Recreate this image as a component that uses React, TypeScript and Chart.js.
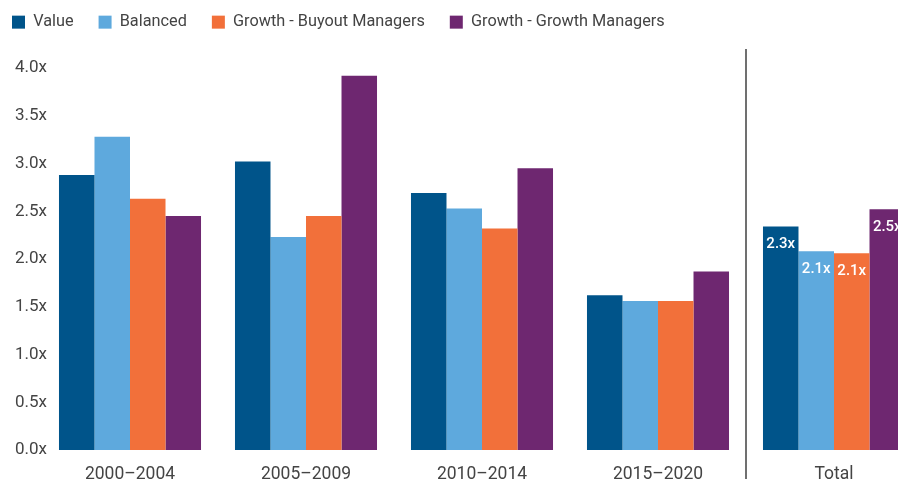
import React, { useEffect, useRef } from "react";
import { Chart, registerables } from "chart.js";

Chart.register(...registerables);

const categories = ["2000–2004", "2005–2009", "2010–2014", "2015–2020", "Total"];
const seriesNames = ["Value", "Balanced", "Growth - Buyout Managers", "Growth - Growth Managers"];
const valueData = [2.88, 3.02, 2.69, 1.62, 2.34];
const balancedData = [3.28, 2.23, 2.53, 1.56, 2.08];
const buyoutData = [2.63, 2.45, 2.32, 1.56, 2.06];
const growthData = [2.45, 3.92, 2.95, 1.87, 2.52];
const colors = ["#00548A", "#5EA9DD", "#F2703A", "#6E2770"];
const yTicks = { min: 0, max: 4, step: 0.5 };
const labelledIndex = 4;

const FONT = "Roboto, 'Noto Sans', sans-serif";
const TEXT = "#444444";
const W = 935;
const H = 494;

export default function App() {
  const ref = useRef<HTMLCanvasElement | null>(null);

  useEffect(() => {
    if (!ref.current) return;

    const legendSpace = {
      id: "legendSpace",
      beforeInit(chart: any) {
        const lg = chart.legend;
        if (!lg) return;
        const orig = lg.fit;
        lg.fit = function () {
          orig.call(this);
          this.height = 79;
        };
      },
    };

    const divider = {
      id: "divider",
      afterDraw(chart: any) {
        const x = chart.scales.x;
        const a = chart.chartArea;
        const px = (x.getPixelForValue(3) + x.getPixelForValue(4)) / 2;
        const ctx = chart.ctx;
        ctx.save();
        ctx.strokeStyle = "#404040";
        ctx.lineWidth = 1.5;
        ctx.beginPath();
        ctx.moveTo(px, a.top - 19);
        ctx.lineTo(px, a.bottom + 29);
        ctx.stroke();
        ctx.restore();
      },
    };

    const totalLabels = {
      id: "totalLabels",
      afterDatasetsDraw(chart: any) {
        const ctx = chart.ctx;
        ctx.save();
        ctx.fillStyle = "#ffffff";
        ctx.font = `500 15px ${FONT}`;
        ctx.textAlign = "center";
        ctx.textBaseline = "middle";
        chart.data.datasets.forEach((ds: any, i: number) => {
          const meta = chart.getDatasetMeta(i);
          const bar = meta.data[labelledIndex];
          if (!bar) return;
          const v = ds.data[labelledIndex] as number;
          ctx.fillText(v.toFixed(1) + "x", bar.x, bar.y + 17.5);
        });
        ctx.restore();
      },
    };

    const allData = [valueData, balancedData, buyoutData, growthData];

    const chart = new Chart(ref.current, {
      type: "bar",
      data: {
        labels: categories,
        datasets: seriesNames.map((name, i) => ({
          label: name,
          data: allData[i],
          backgroundColor: colors[i],
          borderWidth: 0,
          categoryPercentage: 0.807,
          barPercentage: 1.0,
        })),
      },
      options: {
        responsive: false,
        animation: false,
        devicePixelRatio: 1,
        layout: { padding: { left: 0, right: 0, top: 0, bottom: 0 } },
        plugins: {
          legend: {
            position: "top",
            align: "start",
            labels: {
              boxWidth: 13,
              boxHeight: 13,
              padding: 25,
              color: TEXT,
              font: { family: FONT, size: 16.3 },
            },
          },
          tooltip: { enabled: false },
        },
        scales: {
          x: {
            grid: { display: false, drawTicks: false },
            border: { display: false },
            ticks: {
              color: TEXT,
              font: { family: FONT, size: 17.5 },
              padding: 14,
              maxRotation: 0,
            },
            afterFit(scale: any) {
              scale.height = H - 461;
            },
          },
          y: {
            min: yTicks.min,
            max: yTicks.max,
            grid: { display: false, drawTicks: false },
            border: { display: false },
            ticks: {
              stepSize: yTicks.step,
              color: TEXT,
              font: { family: FONT, size: 17 },
              mirror: true,
              padding: -27,
              callback: (v: any) => Number(v).toFixed(1) + "x",
            },
            afterFit(scale: any) {
              scale.width = 55;
            },
          },
        },
      },
      plugins: [legendSpace, divider, totalLabels],
    } as any);

    return () => chart.destroy();
  }, []);

  return (
    <div
      style={{
        position: "fixed",
        left: -13,
        top: -11,
        width: W,
        height: H,
        background: "#ffffff",
      }}
    >
      <canvas ref={ref} width={W} height={H} style={{ width: W, height: H, display: "block" }} />
    </div>
  );
}
